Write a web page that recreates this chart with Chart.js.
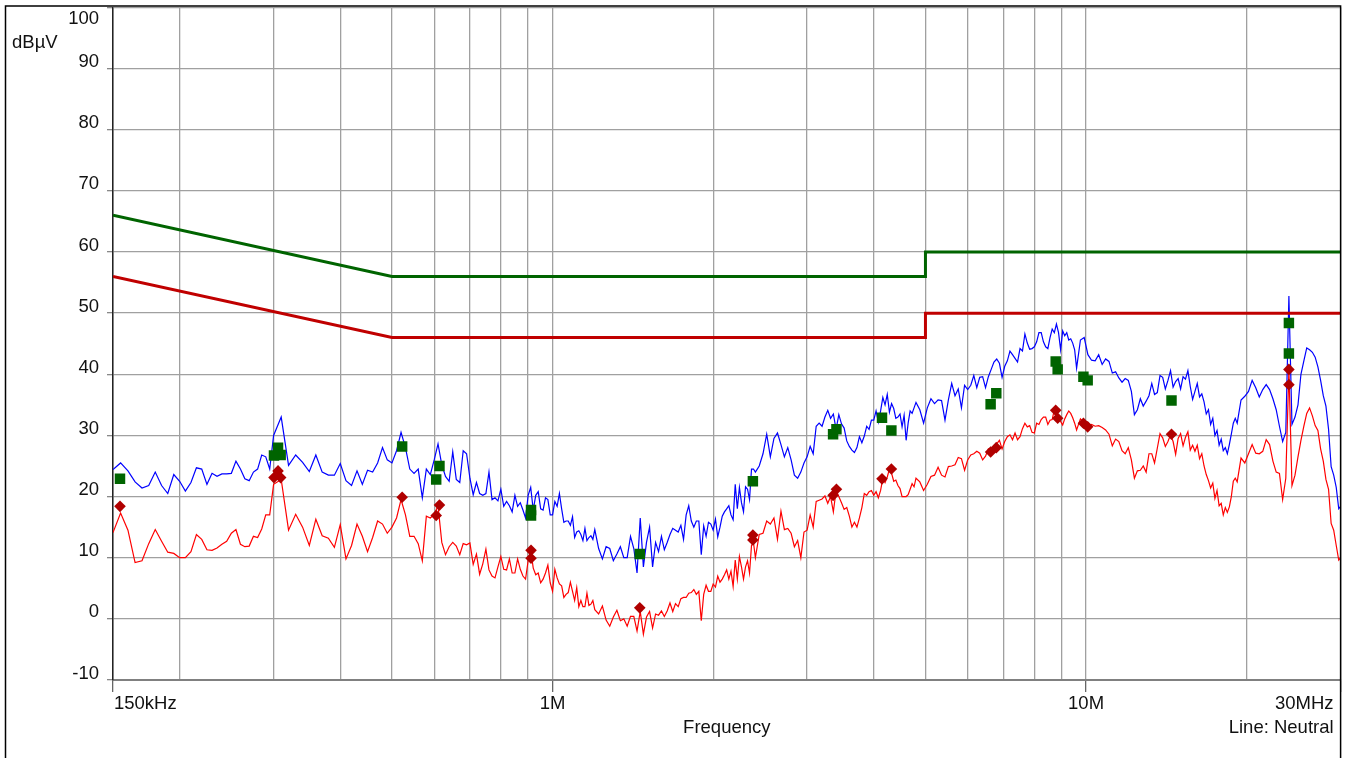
<!DOCTYPE html>
<html lang="en">
<head>
<meta charset="UTF-8">
<title>Conducted emission - Line: Neutral</title>
<script src="https://cdn.jsdelivr.net/npm/chart.js"></script>
<style>
  html, body { margin: 0; padding: 0; background: #fff; }
  canvas { display: block; }
</style>
</head>
<body>
<canvas id="emiChart" width="1348" height="758"></canvas>
<script>
  // sweep frequencies in MHz (150 kHz .. 30 MHz)
  const freqMHz = [
    0.150,0.155,0.160,0.165,0.170,0.175,0.180,0.185,0.190,0.195,0.200,0.205,0.210,0.215,0.220,0.225,0.230,0.235,0.240,0.245,0.250,0.255,0.260,0.265,0.270,0.275,0.280,0.285,0.290,0.295,
    0.30,0.31,0.32,0.33,0.34,0.35,0.36,0.37,0.38,0.39,0.40,0.41,0.42,0.43,0.44,0.45,0.46,0.47,0.48,0.49,0.50,0.51,0.52,0.53,0.54,0.55,0.56,0.57,0.58,0.59,
    0.60,0.61,0.62,0.63,0.64,0.65,0.66,0.67,0.68,0.69,0.70,0.71,0.72,0.73,0.74,0.75,0.76,0.77,0.78,0.79,0.80,0.81,0.82,0.83,0.84,0.85,0.86,0.87,0.88,0.89,
    0.90,0.91,0.92,0.93,0.94,0.95,0.96,0.97,0.98,0.99,1.00,1.01,1.02,1.03,1.04,1.05,1.06,1.07,1.08,1.09,1.10,1.11,1.12,1.13,1.14,1.15,1.16,1.17,1.18,1.19,
    1.20,1.22,1.24,1.26,1.28,1.30,1.32,1.34,1.36,1.38,1.40,1.42,1.44,1.46,1.48,1.50,1.52,1.54,1.56,1.58,1.60,1.62,1.64,1.66,1.68,1.70,1.72,1.74,1.76,1.78,
    1.80,1.82,1.84,1.86,1.88,1.90,1.92,1.94,1.96,1.98,2.00,2.02,2.04,2.06,2.08,2.10,2.12,2.14,2.16,2.18,2.20,2.22,2.24,2.26,2.28,2.30,2.32,2.34,2.36,2.38,
    2.40,2.44,2.48,2.52,2.56,2.60,2.64,2.68,2.72,2.76,2.80,2.84,2.88,2.92,2.96,3.00,3.04,3.08,3.12,3.16,3.20,3.24,3.28,3.32,3.36,3.40,3.44,3.48,3.52,3.56,
    3.60,3.64,3.68,3.72,3.76,3.80,3.84,3.88,3.92,3.96,4.00,4.04,4.08,4.12,4.16,4.20,4.24,4.28,4.32,4.36,4.40,4.44,4.48,4.52,4.56,4.60,4.64,4.68,4.72,4.76,
    4.80,4.88,4.96,5.04,5.12,5.20,5.28,5.36,5.44,5.52,5.60,5.68,5.76,5.84,5.92,6.00,6.08,6.16,6.24,6.32,6.40,6.48,6.56,6.64,6.72,6.80,6.88,6.96,7.04,7.12,
    7.20,7.28,7.36,7.44,7.52,7.60,7.68,7.76,7.84,7.92,8.00,8.08,8.16,8.24,8.32,8.40,8.48,8.56,8.64,8.72,8.80,8.88,8.96,9.04,9.12,9.20,9.28,9.36,9.44,9.52,
    9.60,9.76,9.92,10.08,10.24,10.40,10.56,10.72,10.88,11.04,11.20,11.36,11.52,11.68,11.84,12.00,12.16,12.32,12.48,12.64,12.80,12.96,13.12,13.28,13.44,13.60,13.76,13.92,14.08,14.24,
    14.40,14.56,14.72,14.88,15.04,15.20,15.36,15.52,15.68,15.84,16.00,16.16,16.32,16.48,16.64,16.80,16.96,17.12,17.28,17.44,17.60,17.76,17.92,18.08,18.24,18.40,18.56,18.72,18.88,19.04,
    19.20,19.52,19.84,20.16,20.48,20.80,21.12,21.44,21.76,22.08,22.40,22.72,23.04,23.36,23.68,24.00,24.32,24.64,24.96,25.28,25.60,25.92,26.24,26.56,26.88,27.20,27.52,27.84,28.16,28.48,
    28.80,29.12,29.44,29.76,30.00
  ];

  // peak detector trace (blue), dBµV
  const peakLevel = [
    24.4,25.5,24.2,22.4,21.4,21.8,24.0,21.8,20.5,23.6,22.5,20.9,22.3,24.7,24.5,22.0,23.8,23.3,23.7,23.7,23.8,25.8,24.5,22.9,22.6,24.0,24.5,26.8,26.5,24.5,
    30.0,33.0,25.1,26.8,25.6,24.1,26.8,24.0,23.5,23.5,25.4,22.6,21.8,24.2,22.0,24.3,24.0,25.5,28.0,26.0,25.5,27.5,30.5,28.0,24.5,23.8,24.5,19.8,24.5,23.6,
    26.0,28.6,25.2,23.3,22.5,27.3,22.8,22.3,27.5,27.0,23.0,20.3,22.3,20.5,20.2,20.5,24.0,19.5,19.8,19.3,21.2,18.4,19.2,18.5,17.5,20.2,18.4,19.0,17.8,16.5,
    20.2,21.5,17.8,20.2,20.8,18.0,17.8,19.8,19.5,17.0,17.0,19.2,18.4,20.5,18.0,15.8,16.0,16.0,15.3,16.7,13.3,14.2,14.4,13.8,12.8,14.8,12.8,13.3,13.6,13.0,
    14.6,11.5,9.8,11.8,11.5,9.5,10.6,11.8,10.0,10.0,13.5,11.5,7.5,16.5,8.5,12.5,15.0,8.5,12.5,11.0,13.5,11.3,12.5,13.8,14.8,14.5,14.2,15.3,13.0,17.0,
    18.5,16.0,15.0,16.0,16.0,10.5,15.2,13.5,15.8,15.5,14.5,16.3,13.4,15.0,16.8,17.5,18.0,18.5,17.0,16.2,22.0,18.0,21.5,19.0,17.5,21.6,21.2,19.5,24.5,24.5,
    24.0,25.0,27.0,30.2,26.5,29.5,30.4,28.5,26.5,28.0,26.0,23.5,23.0,24.0,25.5,26.5,28.2,27.0,31.5,32.0,31.5,33.0,34.1,32.8,33.5,31.0,33.4,31.9,31.2,29.1,
    28.2,27.6,27.2,28.0,29.8,28.8,29.9,31.5,31.0,32.5,32.5,34.0,32.2,34.0,36.2,35.0,36.7,33.8,35.2,34.4,32.8,33.0,33.5,31.4,33.3,29.2,32.0,34.0,33.6,34.5,
    35.4,34.2,32.0,34.5,36.0,35.2,35.8,35.7,32.5,35.8,38.5,36.5,37.6,34.5,38.2,37.5,38.2,39.8,37.8,39.5,39.6,37.8,39.6,40.8,42.0,42.5,41.8,39.5,41.3,42.2,
    43.8,43.2,42.6,42.0,44.2,43.8,46.6,45.1,44.1,44.2,44.5,45.3,46.8,46.8,45.3,44.5,44.2,46.0,47.4,46.8,48.2,46.8,44.0,47.1,46.3,46.8,45.6,45.8,45.1,44.0,
    41.0,45.6,46.0,43.2,42.3,42.2,43.2,41.6,42.5,42.1,40.2,40.4,39.4,38.7,39.3,39.0,37.2,33.4,34.2,36.0,34.8,35.6,36.5,38.5,36.7,37.0,39.8,39.5,37.6,39.0,
    40.6,37.9,38.8,39.3,37.6,39.6,39.2,40.6,38.0,35.9,37.2,38.5,36.3,36.8,35.5,33.5,34.2,31.8,32.8,30.0,30.8,28.4,29.4,27.5,28.0,27.0,28.5,30.2,32.0,32.8,
    32.0,35.8,36.4,37.2,39.0,37.8,36.3,37.5,38.3,37.5,36.0,34.2,31.5,29.0,30.5,52.8,31.8,33.0,35.0,40.0,42.2,44.3,44.0,43.6,42.8,41.2,39.0,36.5,34.8,31.0,
    24.9,23.5,21.5,18.0,18.4
  ];

  // average detector trace (red), dBµV
  const avgLevel = [
    14.1,17.3,14.5,9.2,9.5,12.3,14.6,12.7,10.9,10.7,10.0,10.0,11.0,13.8,13.0,11.3,11.2,11.6,12.2,12.7,14.0,14.6,12.2,11.8,11.9,13.5,13.3,14.7,17.0,17.0,
    22.0,22.8,14.5,17.1,15.0,12.0,16.3,13.6,13.2,11.7,15.4,9.8,12.0,15.5,13.5,11.0,13.3,16.0,15.5,14.0,15.0,16.5,19.5,17.0,13.5,13.5,12.3,9.5,16.8,16.5,
    17.1,18.5,12.5,10.5,11.8,12.5,11.9,10.5,12.3,12.1,12.4,8.9,10.6,7.3,9.0,11.4,8.0,7.0,6.7,8.5,10.2,8.1,8.0,9.8,7.5,7.5,9.8,8.1,7.0,6.5,
    9.5,11.3,8.3,7.2,7.5,5.9,6.5,7.5,8.8,5.9,4.5,8.1,6.7,5.7,5.4,3.5,4.0,4.3,6.0,4.5,3.0,5.1,2.0,3.0,2.0,2.0,4.2,2.2,2.4,3.0,
    1.5,0.8,2.1,-0.2,-1.2,0.3,1.4,-0.3,0.0,-1.2,0.4,0.4,-2.0,1.2,-2.5,0.3,1.2,-1.5,0.8,0.6,1.3,0.4,1.3,2.6,1.2,2.5,2.0,3.3,3.5,3.5,
    4.2,4.3,4.8,4.0,4.5,-0.3,4.0,5.5,4.5,4.5,5.7,5.2,7.0,6.0,6.5,7.2,8.0,6.5,7.8,5.3,9.6,6.5,10.2,8.5,6.5,8.5,9.5,7.5,12.0,12.5,
    10.0,13.8,14.0,16.0,15.5,16.5,13.0,17.6,14.6,14.8,14.0,11.8,12.8,10.0,14.2,14.5,17.0,15.0,19.2,19.4,19.6,20.1,18.9,20.0,17.5,21.0,20.0,19.0,17.9,18.2,
    16.8,15.0,15.8,15.0,16.5,18.2,20.5,20.2,20.8,21.0,20.2,20.8,19.8,21.0,23.0,22.3,23.2,24.5,23.8,22.5,22.7,21.8,21.3,20.0,20.0,20.0,20.3,21.2,22.1,21.6,
    23.0,22.4,21.0,22.0,23.3,23.5,24.8,23.5,23.2,24.9,25.0,25.2,26.4,26.2,24.3,26.0,26.8,27.0,27.4,27.1,26.0,26.6,27.8,27.8,28.0,28.6,29.2,27.8,29.0,29.8,
    30.1,29.3,30.4,29.3,29.8,31.1,32.0,31.4,31.6,30.5,30.4,32.0,31.8,32.6,33.0,33.0,31.8,32.5,32.6,34.2,33.8,32.5,32.3,31.7,32.7,33.4,34.0,33.6,32.9,32.0,
    30.9,32.7,32.0,31.4,31.8,31.5,31.6,31.3,30.9,30.2,28.3,29.4,29.0,27.5,27.0,28.0,26.0,23.0,24.2,24.3,25.0,24.0,27.0,27.0,25.5,27.9,30.3,29.6,28.2,29.0,
    30.1,29.0,26.9,29.5,30.3,28.3,29.7,30.6,27.6,28.4,27.4,28.4,26.2,27.0,25.0,23.6,22.6,21.4,22.2,19.7,21.0,18.5,18.9,17.0,18.2,17.4,18.3,20.0,22.5,23.0,
    22.4,26.3,25.5,27.0,28.5,27.1,27.0,27.4,29.3,28.5,25.8,24.0,23.8,19.5,23.0,40.8,21.8,23.5,26.5,29.2,31.5,33.6,34.5,33.2,31.6,30.8,27.8,25.8,22.8,21.2,
    15.6,14.5,12.0,9.6,10.0
  ];

  // limit lines
  const limitFreqMHz = [0.15, 0.5, 5, 5, 30];
  const qpLimit = [66, 56, 56, 60, 60];
  const avLimit = [56, 46, 46, 50, 50];

  // final measurement markers
  const qpFreqMHz = [0.1546, 0.3005, 0.3058, 0.3093, 0.5225, 0.6052, 0.6138, 0.9113, 0.9113, 1.457, 2.374, 3.356, 3.405, 4.145, 4.316, 6.624, 6.788, 8.772, 8.847, 9.887, 10.07, 14.46, 24.0, 24.0];
  const qpLevel = [22.9, 26.7, 28.0, 26.8, 28.2, 22.8, 25.0, 17.8, 16.9, 10.6, 22.5, 30.2, 31.0, 32.9, 30.8, 35.1, 36.9, 42.1, 40.8, 39.6, 39.0, 35.7, 48.4, 43.4];
  const avFreqMHz = [0.1546, 0.3005, 0.3058, 0.3093, 0.5225, 0.6052, 0.6138, 0.9113, 0.9113, 1.457, 2.374, 2.374, 3.356, 3.405, 4.145, 4.316, 6.624, 6.788, 8.772, 8.847, 9.887, 10.07, 14.46, 24.0, 24.0];
  const avLevel = [18.4, 23.1, 24.2, 23.1, 19.9, 16.9, 18.6, 11.2, 9.9, 1.8, 13.7, 12.9, 20.2, 21.2, 22.9, 24.5, 27.3, 28.0, 34.1, 32.8, 32.0, 31.4, 30.2, 40.8, 38.3];

  // axes
  const yTicks = [-10, 0, 10, 20, 30, 40, 50, 60, 70, 80, 90, 100];
  const xGridMHz = [0.15, 0.2, 0.3, 0.4, 0.5, 0.6, 0.7, 0.8, 0.9, 1, 2, 3, 4, 5, 6, 7, 8, 9, 10, 20, 30];
  const xTickMHz = [0.15, 1, 10, 30];
  const xTickLabels = ['150kHz', '1M', '10M', '30MHz'];

  const FONT = '18.5px "Liberation Sans", Arial, sans-serif';
  const GRID = '#a0a0a0';

  function pts(xs, ys) {
    return xs.map((x, i) => ({ x: x, y: ys[i] }));
  }

  // tick labels, axis texts and outer frame
  const axisText = {
    id: 'axisText',
    afterDraw(chart) {
      const ctx = chart.ctx;
      const xs = chart.scales.x;
      const ys = chart.scales.y;
      const area = chart.chartArea;
      ctx.save();
      ctx.fillStyle = '#111';
      ctx.font = FONT;

      ctx.textAlign = 'right';
      ctx.textBaseline = 'middle';
      yTicks.forEach(v => {
        const py = ys.getPixelForValue(v);
        ctx.fillText(String(v), 99, v === yTicks[yTicks.length - 1] ? py + 11.5 : py - 6.5);
      });
      ctx.textAlign = 'left';
      ctx.fillText('dBµV', 12, 43);

      const last = xTickMHz.length - 1;
      xTickMHz.forEach((f, i) => {
        const px = xs.getPixelForValue(f);
        if (i === 0) {
          ctx.textAlign = 'left';
          ctx.fillText(xTickLabels[i], px + 1, 704);
        } else if (i === last) {
          ctx.textAlign = 'right';
          ctx.fillText(xTickLabels[i], px - 7, 704);
        } else {
          ctx.textAlign = 'center';
          ctx.fillText(xTickLabels[i], px, 704);
        }
      });
      ctx.textAlign = 'center';
      ctx.fillText('Frequency', (area.left + area.right) / 2, 728);
      ctx.textAlign = 'right';
      ctx.fillText('Line: Neutral', area.right - 7, 728);

      // frame
      ctx.strokeStyle = '#000';
      ctx.lineWidth = 1.5;
      ctx.beginPath();
      ctx.moveTo(5.5, 758);
      ctx.lineTo(5.5, 6);
      ctx.lineTo(area.right, 6);
      ctx.lineTo(area.right, 758);
      ctx.stroke();
      ctx.restore();
    }
  };

  new Chart(document.getElementById('emiChart'), {
    type: 'line',
    data: {
      datasets: [
        {
          label: 'QP measured',
          data: pts(qpFreqMHz, qpLevel),
          showLine: false,
          pointStyle: 'rect',
          pointRadius: 7.4,
          pointBackgroundColor: '#006400',
          pointBorderColor: '#006400',
          pointBorderWidth: 0,
          order: 0
        },
        {
          label: 'AV measured',
          data: pts(avFreqMHz, avLevel),
          showLine: false,
          pointStyle: 'rectRot',
          pointRadius: 5.8,
          pointBackgroundColor: '#b00000',
          pointBorderColor: '#b00000',
          pointBorderWidth: 0,
          order: 0
        },
        {
          label: 'QP limit',
          data: pts(limitFreqMHz, qpLimit),
          borderColor: '#006400',
          borderWidth: 3,
          pointRadius: 0,
          order: 1
        },
        {
          label: 'AV limit',
          data: pts(limitFreqMHz, avLimit),
          borderColor: '#c00000',
          borderWidth: 3,
          pointRadius: 0,
          order: 1
        },
        {
          label: 'Average',
          data: pts(freqMHz, avgLevel),
          borderColor: '#ff0000',
          borderWidth: 1.2,
          pointRadius: 0,
          order: 2
        },
        {
          label: 'Peak',
          data: pts(freqMHz, peakLevel),
          borderColor: '#0000ff',
          borderWidth: 1.2,
          pointRadius: 0,
          order: 3
        }
      ]
    },
    options: {
      responsive: false,
      devicePixelRatio: 1,
      animation: false,
      events: [],
      layout: { padding: { left: 0, top: 7, right: 6, bottom: 0 } },
      elements: { line: { tension: 0, fill: false } },
      plugins: {
        legend: { display: false },
        tooltip: { enabled: false }
      },
      scales: {
        x: {
          type: 'logarithmic',
          min: 0.15,
          max: 30,
          afterBuildTicks: scale => {
            scale.ticks = xGridMHz.map(v => ({ value: v }));
          },
          afterFit: scale => { scale.height = 78; },
          ticks: { display: false },
          grid: {
            color: GRID,
            lineWidth: 1.3,
            tickLength: 12,
            tickColor: c => (c.tick && xTickMHz.includes(c.tick.value)) ? '#666' : 'rgba(0,0,0,0)'
          },
          border: { color: '#808080', width: 2 }
        },
        y: {
          type: 'linear',
          min: -10,
          max: 100,
          afterBuildTicks: scale => {
            scale.ticks = yTicks.map(v => ({ value: v }));
          },
          afterFit: scale => { scale.width = 113; },
          ticks: { display: false },
          grid: {
            color: GRID,
            lineWidth: 1.3,
            tickLength: 6,
            tickColor: '#888'
          },
          border: { color: '#222', width: 1.5 }
        }
      }
    },
    plugins: [axisText]
  });
</script>
</body>
</html>
